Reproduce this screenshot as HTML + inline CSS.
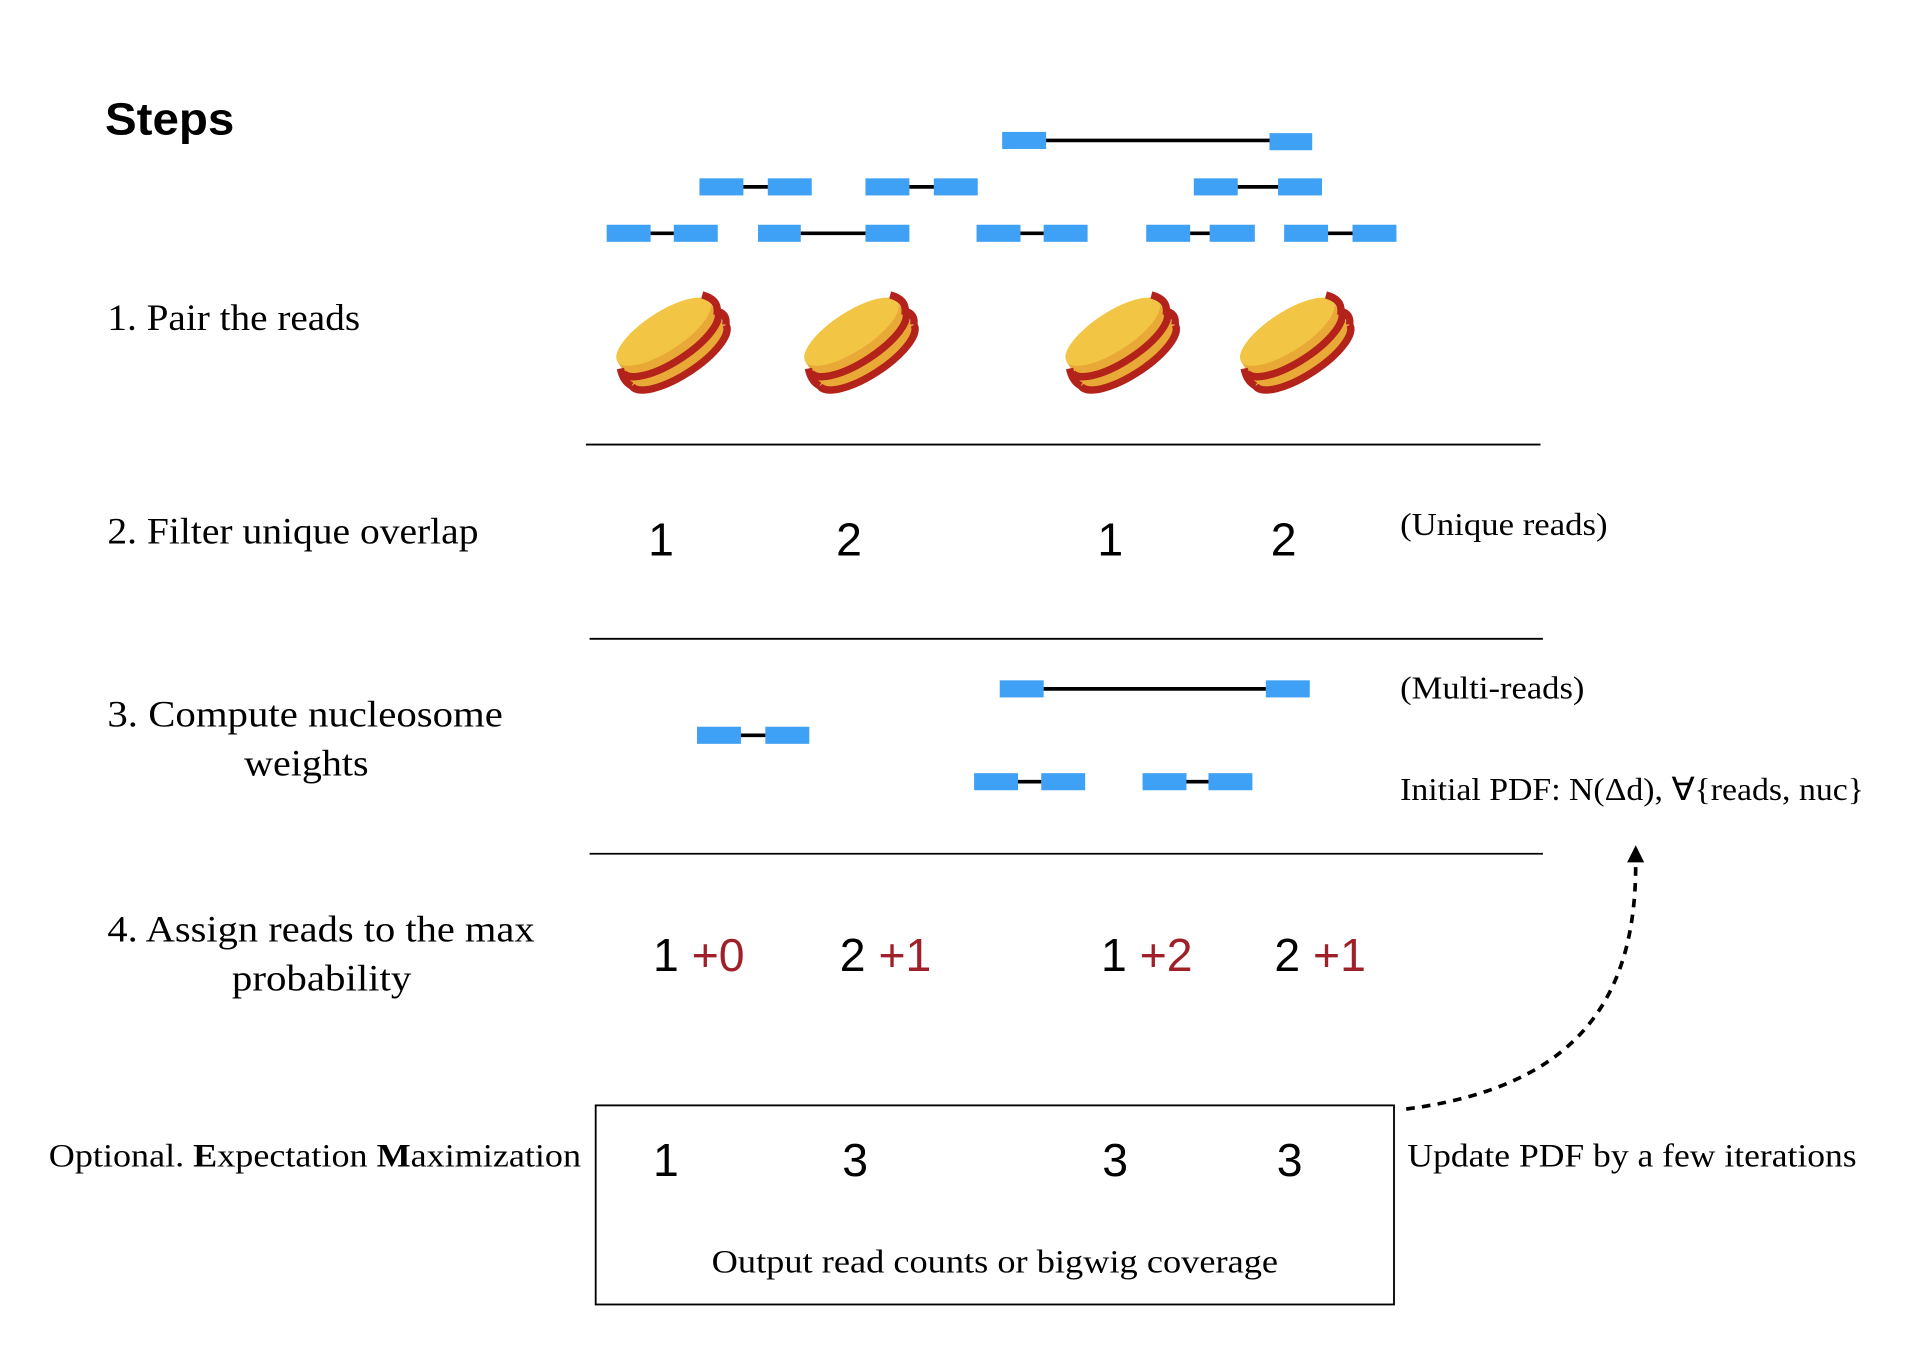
<!DOCTYPE html>
<html><head><meta charset="utf-8"><style>
html,body{margin:0;padding:0;background:#fff;}
svg{display:block}
.s{font-family:"Liberation Serif",serif;fill:#000}
.n{font-family:"Liberation Sans",sans-serif;fill:#000;font-size:38px}
.r{fill:#a0202a}
</style></head><body>
<svg width="1914" height="1346" viewBox="0 0 1568 1102" preserveAspectRatio="none" xmlns="http://www.w3.org/2000/svg">
<defs>
<g id="nuc">
  <g transform="rotate(-33)">
    <path d="M-45 -10 L-45 12 A45 16 0 0 0 45 12 L45 -10 Z" fill="#e9a936"/>
    <ellipse cx="0" cy="-10" rx="45" ry="16" fill="#f2c544"/>
    <path d="M-46 0 A46 16 0 0 0 46 0" stroke="#b3221b" stroke-width="6" fill="none"/>
    <path d="M-46 13 A46 16 0 0 0 46 13" stroke="#b3221b" stroke-width="6" fill="none"/>
    <path d="M43 -18 Q52 -8 46 0 Q52 6 46 13" stroke="#b3221b" stroke-width="6" fill="none"/>
    <path d="M-46 -4 Q-50 6 -46 13" stroke="#b3221b" stroke-width="6" fill="none"/>
  </g>
</g>
</defs>
<text x="86" y="110" font-family="Liberation Sans,sans-serif" font-weight="bold" font-size="37" textLength="106" lengthAdjust="spacingAndGlyphs">Steps</text>

<g fill="#3fa1f5">
<rect x="821" y="108" width="36" height="14"/><rect x="1040" y="109" width="35" height="14"/>
<rect x="573" y="146" width="36" height="14"/><rect x="629" y="146" width="36" height="14"/>
<rect x="709" y="146" width="36" height="14"/><rect x="765" y="146" width="36" height="14"/>
<rect x="978" y="146" width="36" height="14"/><rect x="1047" y="146" width="36" height="14"/>
<rect x="497" y="184" width="36" height="14"/><rect x="552" y="184" width="36" height="14"/>
<rect x="621" y="184" width="35" height="14"/><rect x="709" y="184" width="36" height="14"/>
<rect x="800" y="184" width="36" height="14"/><rect x="855" y="184" width="36" height="14"/>
<rect x="939" y="184" width="36" height="14"/><rect x="991" y="184" width="37" height="14"/>
<rect x="1052" y="184" width="36" height="14"/><rect x="1108" y="184" width="36" height="14"/>
<rect x="571" y="595" width="36" height="14"/><rect x="627" y="595" width="36" height="14"/>
<rect x="819" y="557" width="36" height="14"/><rect x="1037" y="557" width="36" height="14"/>
<rect x="798" y="633" width="36" height="14"/><rect x="853" y="633" width="36" height="14"/>
<rect x="936" y="633" width="36" height="14"/><rect x="990" y="633" width="36" height="14"/>
</g>
<g stroke="#000" stroke-width="3">
<line x1="857" y1="115" x2="1040" y2="115"/>
<line x1="609" y1="153" x2="629" y2="153"/><line x1="745" y1="153" x2="765" y2="153"/><line x1="1014" y1="153" x2="1047" y2="153"/>
<line x1="533" y1="191" x2="552" y2="191"/><line x1="656" y1="191" x2="709" y2="191"/><line x1="836" y1="191" x2="855" y2="191"/><line x1="975" y1="191" x2="991" y2="191"/><line x1="1088" y1="191" x2="1108" y2="191"/>
<line x1="607" y1="602" x2="627" y2="602"/><line x1="855" y1="564" x2="1037" y2="564"/><line x1="834" y1="640" x2="853" y2="640"/><line x1="972" y1="640" x2="990" y2="640"/>
</g>
<g stroke="#000" stroke-width="1.5">
<line x1="480" y1="364" x2="1262" y2="364"/>
<line x1="483" y1="523" x2="1264" y2="523"/>
<line x1="483" y1="699" x2="1264" y2="699"/>
</g>

<use href="#nuc" x="549" y="280"/>
<use href="#nuc" x="703" y="280"/>
<use href="#nuc" x="917" y="280"/>
<use href="#nuc" x="1060" y="280"/>

<g class="s" font-size="30">
<text class="s" x="88" y="270" textLength="207" lengthAdjust="spacingAndGlyphs">1. Pair the reads</text>
<text class="s" x="88" y="445" textLength="304" lengthAdjust="spacingAndGlyphs">2. Filter unique overlap</text>
<text class="s" x="88" y="595" textLength="324" lengthAdjust="spacingAndGlyphs">3. Compute nucleosome</text>
<text class="s" x="200" y="635" textLength="102" lengthAdjust="spacingAndGlyphs">weights</text>
<text class="s" x="88" y="771" textLength="350" lengthAdjust="spacingAndGlyphs">4. Assign reads to the max</text>
<text class="s" x="190" y="811" textLength="147" lengthAdjust="spacingAndGlyphs">probability</text>
</g>
<text class="s" x="40" y="955" font-size="27" textLength="436" lengthAdjust="spacingAndGlyphs">Optional. <tspan font-weight="bold">E</tspan>xpectation <tspan font-weight="bold">M</tspan>aximization</text>

<text class="s" x="1147" y="438" font-size="26" textLength="170" lengthAdjust="spacingAndGlyphs">(Unique reads)</text>
<text class="s" x="1147" y="572" font-size="26" textLength="151" lengthAdjust="spacingAndGlyphs">(Multi-reads)</text>
<text class="s" x="1147" y="655" font-size="26" textLength="380" lengthAdjust="spacingAndGlyphs">Initial PDF: N(Δd), ∀{reads, nuc}</text>
<text class="s" x="1153" y="955" font-size="27" textLength="368" lengthAdjust="spacingAndGlyphs">Update PDF by a few iterations</text>

<text class="n" x="531" y="455">1</text><text class="n" x="685" y="455">2</text><text class="n" x="899" y="455">1</text><text class="n" x="1041" y="455">2</text>
<text class="n" x="535" y="795">1 <tspan class="r">+0</tspan></text>
<text class="n" x="688" y="795">2 <tspan class="r">+1</tspan></text>
<text class="n" x="902" y="795">1 <tspan class="r">+2</tspan></text>
<text class="n" x="1044" y="795">2 <tspan class="r">+1</tspan></text>

<rect x="488" y="905" width="654" height="163" fill="none" stroke="#000" stroke-width="1.5"/>
<text class="n" x="535" y="963">1</text><text class="n" x="690" y="963">3</text><text class="n" x="903" y="963">3</text><text class="n" x="1046" y="963">3</text>
<text class="s" x="583" y="1042" font-size="27" textLength="464" lengthAdjust="spacingAndGlyphs">Output read counts or bigwig coverage</text>

<path d="M1152 908 C1290 890 1340 820 1340 708" fill="none" stroke="#000" stroke-width="3" stroke-dasharray="7 6"/>
<polygon points="1340,692 1333,706 1347,706" fill="#000"/>
</svg>
</body></html>
